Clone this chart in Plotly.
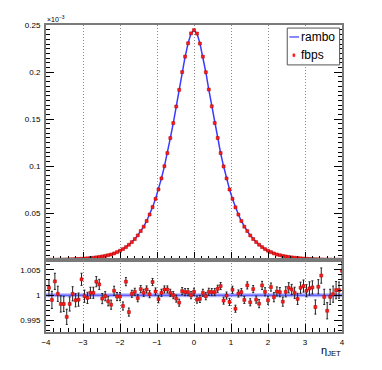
import plotly.graph_objects as go

# bin centres of the eta_JET histogram (width 0.08)
eta = [round(-3.92 + 0.08 * i, 2) for i in range(100)]

# rambo distribution, in units of 1e-3
rambo = [0.0003, 0.0003, 0.0003, 0.0004, 0.0005, 0.0005, 0.0006, 0.0007, 0.0008, 0.0010,
         0.0011, 0.0013, 0.0015, 0.0018, 0.0021, 0.0024, 0.0028, 0.0033, 0.0038, 0.0044,
         0.0051, 0.0059, 0.0070, 0.0084, 0.0099, 0.0116, 0.0137, 0.0163, 0.0191, 0.0223,
         0.0262, 0.0308, 0.0355, 0.0415, 0.0484, 0.0562, 0.0651, 0.0752, 0.0869, 0.0998,
         0.1137, 0.1298, 0.1458, 0.1636, 0.1815, 0.2000, 0.2165, 0.2307, 0.2414,
         0.2447,
         0.2414, 0.2307, 0.2165, 0.2000, 0.1815, 0.1636, 0.1458, 0.1298, 0.1137, 0.0998,
         0.0869, 0.0752, 0.0651, 0.0562, 0.0484, 0.0415, 0.0355, 0.0308, 0.0262, 0.0223,
         0.0191, 0.0163, 0.0137, 0.0116, 0.0099, 0.0084, 0.0070, 0.0059, 0.0051, 0.0044,
         0.0038, 0.0033, 0.0028, 0.0024, 0.0021, 0.0018, 0.0015, 0.0013, 0.0011, 0.0010,
         0.0008, 0.0007, 0.0006, 0.0005, 0.0005, 0.0004, 0.0003, 0.0003, 0.0003, 0.0002]

# fbps / rambo
ratio = [1.00147, 0.99907, 1.00273, 1.00027, 0.99827, 0.99827, 0.99573, 0.99827, 1.00027, 0.99900,
         0.99913, 1.00313, 0.99980, 0.99947, 1.00047, 1.00047, 1.00267, 1.00213, 0.99933, 0.99980,
         0.99880, 0.99813, 1.00087, 0.99973, 0.99973, 0.99787, 1.00267, 0.99667, 1.00027, 1.00067,
         0.99940, 1.00120, 1.00047, 1.00113, 1.00020, 1.00260, 1.00073, 0.99920, 1.00047, 1.00113,
         1.00113, 1.00047, 1.00000, 0.99933, 0.99853, 1.00080, 1.00060, 1.00060, 1.00000,
         1.00067,
         0.99913, 0.99927, 1.00047, 0.99980, 1.00067, 1.00060, 1.00060, 1.00127, 1.00180, 0.99893,
         0.99993, 0.99867, 1.00107, 0.99733, 1.00033, 1.00060, 0.99907, 1.00193, 0.99860, 1.00120,
         0.99913, 0.99833, 1.00193, 1.00067, 0.99900, 1.00160, 0.99960, 1.00073, 1.00060, 0.99873,
         1.00067, 1.00147, 1.00113, 1.00047, 0.99927, 1.00147, 1.00180, 1.00087, 1.00133, 1.00153,
         0.99767, 1.00167, 1.00387, 0.99967, 0.99693, 0.99967, 1.00020, 1.00100, 1.00100, 1.00480]

ratio_err = [0.0016, 0.0017, 0.0016, 0.0015, 0.0016, 0.0015, 0.0015, 0.0014, 0.0014, 0.0013,
             0.0013, 0.0012, 0.0012, 0.0011, 0.0011, 0.0011, 0.0010, 0.0010, 0.0010, 0.0009,
             0.0009, 0.0009, 0.0009, 0.0008, 0.0008, 0.0008, 0.0008, 0.0008, 0.0007, 0.0007,
             0.0007, 0.0007, 0.0007, 0.0007, 0.0007, 0.0007, 0.0007, 0.0007, 0.0007, 0.0007,
             0.0007, 0.0007, 0.0007, 0.0007, 0.0007, 0.0007, 0.0007, 0.0007, 0.0007,
             0.0007,
             0.0007, 0.0007, 0.0007, 0.0007, 0.0007, 0.0007, 0.0007, 0.0007, 0.0007, 0.0007,
             0.0007, 0.0007, 0.0007, 0.0007, 0.0007, 0.0007, 0.0007, 0.0007, 0.0007, 0.0007,
             0.0007, 0.0008, 0.0008, 0.0008, 0.0008, 0.0008, 0.0009, 0.0009, 0.0009, 0.0009,
             0.0010, 0.0010, 0.0010, 0.0011, 0.0011, 0.0011, 0.0012, 0.0012, 0.0013, 0.0013,
             0.0014, 0.0014, 0.0015, 0.0015, 0.0016, 0.0015, 0.0016, 0.0017, 0.0016, 0.0017]

fbps = [r * q for r, q in zip(rambo, ratio)]
ones = [1.0 for _ in eta]

BLUE = '#3b3bff'
RED = '#ff1a1a'
FRAME = '#7a7a7a'
FONT = 'Liberation Sans, Arial, sans-serif'

fig = go.Figure()

# top panel
fig.add_trace(go.Scatter(x=eta, y=rambo, mode='lines', name='rambo',
                         line=dict(color=BLUE, width=1.5), xaxis='x', yaxis='y'))
fig.add_trace(go.Scatter(x=eta, y=fbps, mode='markers', name='fbps',
                         marker=dict(color=RED, size=3, symbol='square',
                                     line=dict(color='#aa0000', width=0.5)),
                         xaxis='x', yaxis='y'))

# ratio panel
fig.add_trace(go.Scatter(x=[-4] + eta + [4], y=[1.0] + ones + [1.0], mode='lines',
                         line=dict(color='rgba(90,90,255,0.45)', width=4),
                         xaxis='x2', yaxis='y2', hoverinfo='skip'))
fig.add_trace(go.Scatter(x=[-4] + eta + [4], y=[1.0] + ones + [1.0], mode='lines',
                         line=dict(color=BLUE, width=1),
                         xaxis='x2', yaxis='y2', hoverinfo='skip'))
fig.add_trace(go.Scatter(x=eta, y=ratio, mode='markers',
                         error_y=dict(type='data', array=ratio_err, color='#222222',
                                      thickness=1, width=1),
                         marker=dict(color=RED, size=3, symbol='square',
                                     line=dict(color='#aa0000', width=0.5)),
                         xaxis='x2', yaxis='y2'))

split = 0.2345
xcommon = dict(range=[-4, 4], tick0=-4, dtick=1, ticks='inside', ticklen=8,
               tickcolor='black', tickwidth=1,
               minor=dict(ticks='inside', ticklen=4, tick0=-4, dtick=0.2,
                          tickcolor='black', tickwidth=1),
               showgrid=True, griddash='1px,2px', gridcolor='#8a8a8a', gridwidth=1,
               showline=True, linecolor=FRAME, linewidth=2, mirror=True,
               zeroline=False, tickfont=dict(size=8, color='black'))

# the page body adds an 8px margin around the figure
fig.update_layout(
    width=366, height=354,
    margin=dict(l=31, r=32, t=17, b=30),
    paper_bgcolor='white', plot_bgcolor='white',
    font=dict(family=FONT, color='black'),
    showlegend=False,
    xaxis=dict(domain=[0, 1], anchor='y', showticklabels=False, **xcommon),
    xaxis2=dict(domain=[0, 1], anchor='y2', matches='x', showticklabels=True,
                ticklabelstandoff=1, **xcommon),
    yaxis=dict(domain=[split, 1], anchor='x', range=[0, 0.2503], tick0=0, dtick=0.05,
               labelalias={'0': ' '},
               ticks='inside', ticklen=8, tickcolor='black',
               minor=dict(ticks='inside', ticklen=4, tick0=0, dtick=0.005, tickcolor='black'),
               showgrid=False, zeroline=False, showline=True, linecolor=FRAME,
               linewidth=2, mirror='ticks', tickfont=dict(size=8, color='black'),
               ticklabelstandoff=2),
    yaxis2=dict(domain=[0, split], anchor='x2', range=[0.99274, 1.00694], tick0=1,
                dtick=0.005, ticks='inside', ticklen=8, tickcolor='black',
                minor=dict(ticks='inside', ticklen=4, tick0=1, dtick=0.001, tickcolor='black'),
                showgrid=False, zeroline=False, showline=True, linecolor=FRAME,
                linewidth=2, mirror='ticks', tickfont=dict(size=8, color='black'),
                ticklabelstandoff=2),
)

# legend box drawn like the ROOT TLegend
fig.add_shape(type='rect', xref='paper', yref='paper', x0=0.815, x1=0.992, y0=0.870, y1=0.990,
              line=dict(color='#555555', width=1), fillcolor='white', layer='above')
fig.add_shape(type='line', xref='paper', yref='paper', x0=0.822, x1=0.855, y0=0.961, y1=0.961,
              line=dict(color=BLUE, width=1.2), layer='above')
fig.add_shape(type='rect', xref='paper', yref='paper', x0=0.834, x1=0.841, y0=0.897, y1=0.906,
              line=dict(color=RED, width=0.5), fillcolor=RED, layer='above')
fig.add_annotation(xref='paper', yref='paper', x=0.856, y=0.961, text='rambo',
                   showarrow=False, xanchor='left', yanchor='middle',
                   font=dict(size=12, color='black'))
fig.add_annotation(xref='paper', yref='paper', x=0.856, y=0.902, text='fbps',
                   showarrow=False, xanchor='left', yanchor='middle',
                   font=dict(size=12, color='black'))

fig.add_annotation(xref='paper', yref='paper', x=-0.005, y=1.0, text='×10<sup>−3</sup>',
                   showarrow=False, xanchor='left', yanchor='bottom',
                   font=dict(size=7, color='black'))
fig.add_annotation(xref='paper', yref='paper', x=1.005, y=-0.034, text='η<sub>JET</sub>',
                   showarrow=False, xanchor='right', yanchor='top',
                   font=dict(size=11, color='black'))

fig.write_html("out.html")
